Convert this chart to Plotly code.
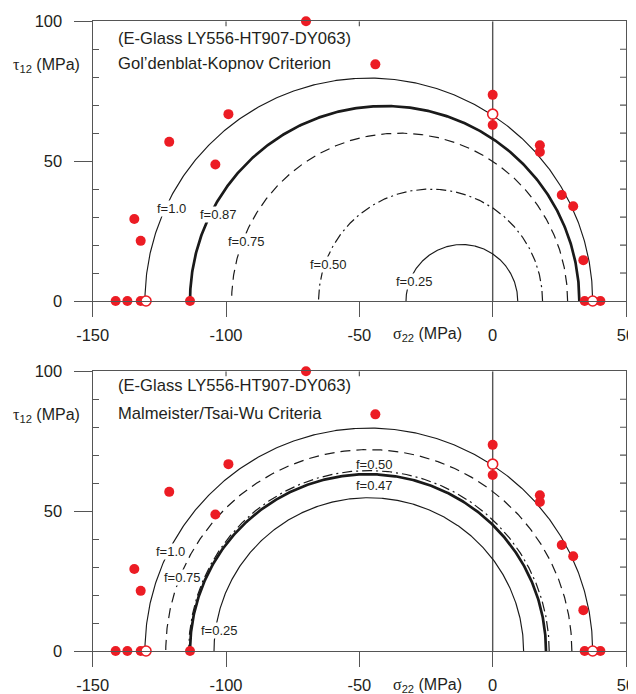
import numpy as np
import plotly.graph_objects as go

# ---------------- data ----------------
x_ticks = [-150, -100, -50, 0, 50]
y_ticks = [0, 50, 100]

# experimental points (same set in both panels)
filled_x = [-70, -44, -99.1, -121.3, -104, 0, 0, 17.7, 17.7, 25.9, 30.2, 34.0,
            34.5, 40.4, -134.4, -132.0, -141.4, -137.0, -132.0, -113.5]
filled_y = [100, 84.6, 66.8, 56.9, 48.8, 73.7, 62.9, 55.7, 53.3, 37.9, 33.9, 14.6,
            0, 0, 29.3, 21.5, 0, 0, 0, 0]
open_x = [0, -130.0, 37.5]
open_y = [66.8, 0, 0]

# failure envelopes: left / right sigma22 intercepts and peak tau12
top_labels = ["f=1.0", "f=0.87", "f=0.75", "f=0.50", "f=0.25"]
top_left = [-130.4, -113.5, -97.9, -65.3, -32.5]
top_right = [37.5, 32.5, 28.1, 18.7, 9.4]
top_peak = [79.7, 69.7, 60.0, 40.0, 20.2]

bot_labels = ["f=1.0", "f=0.75", "f=0.50", "f=0.47", "f=0.25"]
bot_left = [-130.4, -122.6, -114.0, -113.5, -104.5]
bot_right = [37.5, 29.7, 21.2, 20.0, 11.6]
bot_peak = [79.7, 72.0, 64.5, 63.2, 54.8]

# ---------------- styles / positions ----------------
THIN = dict(width=1.15, dash="solid")
THICK = dict(width=2.7, dash="solid")
DASH = dict(width=1.2, dash="10px,6px")
DASHDOT = dict(width=1.2, dash="10px,4px,2px,4px")
top_styles = [THIN, THICK, DASH, DASHDOT, THIN]
bot_styles = [THIN, DASH, DASHDOT, THICK, THIN]

top_label_pos = [(-120.4, 33.1), (-102.9, 31.0), (-92.2, 21.4), (-61.4, 12.9), (-29.2, 7.1)]
bot_label_pos = [(-120.7, 35.5), (-116.2, 26.3), (-44.4, 66.8), (-44.4, 59.0), (-102.4, 7.2)]
bot_label_bg = [True, True, False, False, True]

# page body has an 8px margin: shift everything by it
OFF = 8
W, H = 636 - OFF, 694 - OFF


def fx(px):
    return (px - OFF) / W


def fy(py):
    return 1 - (py - OFF) / H


XDOM = [fx(92.7), fx(626)]
TOP_DOM = [fy(301), fy(21.3)]
BOT_DOM = [fy(651), fy(371.3)]

RED = "#ec1c24"
AX = "#555555"
TXT = "#231f20"
FONT = "Arial, Liberation Sans, Helvetica, sans-serif"
SERIF = "Times New Roman, Liberation Serif, serif"

fig = go.Figure()

theta = np.linspace(0, np.pi, 400)


def add_panel(xa, ya, labels, lefts, rights, peaks, styles):
    for lab, l, r, p, st in zip(labels, lefts, rights, peaks, styles):
        c = (l + r) / 2
        a = (r - l) / 2
        fig.add_trace(go.Scatter(
            x=c + a * np.cos(theta), y=p * np.sin(theta), mode="lines",
            line=dict(color="#1a1a1a", width=st["width"], dash=st["dash"]),
            xaxis=xa, yaxis=ya, cliponaxis=False, hoverinfo="skip", name=lab))
    fig.add_trace(go.Scatter(
        x=filled_x, y=filled_y, mode="markers", xaxis=xa, yaxis=ya,
        marker=dict(size=10, color=RED, line=dict(width=0)), cliponaxis=False))
    fig.add_trace(go.Scatter(
        x=open_x, y=open_y, mode="markers", xaxis=xa, yaxis=ya,
        marker=dict(size=10, color="white", line=dict(width=1.6, color=RED)),
        cliponaxis=False))


add_panel("x", "y", top_labels, top_left, top_right, top_peak, top_styles)
add_panel("x2", "y2", bot_labels, bot_left, bot_right, bot_peak, bot_styles)


def xaxis_def(anchor):
    return dict(domain=XDOM, range=[-150, 50], anchor=anchor, showline=True,
                linecolor=AX, linewidth=1.4, mirror=True, showgrid=False,
                zeroline=False, ticks="outside", tickvals=x_ticks,
                ticktext=[str(v) for v in x_ticks], ticklen=15, tickwidth=1.4,
                tickcolor=AX, tickfont=dict(family=FONT, size=16.5, color=TXT),
                ticklabelstandoff=4, automargin=False)


def yaxis_def(anchor, dom):
    return dict(domain=dom, range=[0, 100], anchor=anchor, showline=True,
                linecolor=AX, linewidth=1.4, mirror=True, showgrid=False,
                zeroline=False, ticks="outside", tickvals=y_ticks,
                ticktext=[str(v) for v in y_ticks], ticklen=18, tickwidth=1.4,
                tickcolor=AX, tickfont=dict(family=FONT, size=16.5, color=TXT),
                ticklabelstandoff=8, automargin=False,
                minor=dict(ticks="inside", tickvals=[10, 20, 30, 40, 60, 70, 80, 90],
                           ticklen=6, tickwidth=1.2, tickcolor=AX))


shapes = []
annotations = []
for xr, yr in [("x", "y"), ("x2", "y2")]:
    # vertical line at sigma22 = 0
    shapes.append(dict(type="line", xref=xr, yref=yr, x0=0, x1=0, y0=0, y1=100,
                       line=dict(color=AX, width=1.4), layer="below"))
    # right-side minor ticks
    for v in [10, 20, 30, 40, 50, 60, 70, 80, 90]:
        shapes.append(dict(type="line", xref=xr, yref=yr, xsizemode="pixel",
                           xanchor=50, x0=0, x1=-6, y0=v, y1=v,
                           line=dict(color=AX, width=1.2)))
    # top-border small ticks
    for v in [-100, -50]:
        shapes.append(dict(type="line", xref=xr, yref=yr, ysizemode="pixel",
                           yanchor=100, y0=0, y1=-5, x0=v, x1=v,
                           line=dict(color=AX, width=1.2)))
    # baseline extension to the right edge
    shapes.append(dict(type="line", xref=xr, yref=yr, xsizemode="pixel",
                       xanchor=50, x0=0, x1=12, y0=0, y1=0,
                       line=dict(color=AX, width=1.4)))

# curve labels
for labs, pos, bgs, xr, yr in [
        (top_labels, top_label_pos, [True] * 5, "x", "y"),
        (bot_labels, bot_label_pos, bot_label_bg, "x2", "y2")]:
    for lab, (px, py), bg in zip(labs, pos, bgs):
        annotations.append(dict(
            x=px, y=py, xref=xr, yref=yr, text=lab, showarrow=False,
            font=dict(family=FONT, size=13, color=TXT),
            bgcolor="white" if bg else "rgba(0,0,0,0)", borderpad=0))


def paper_text(text, px, py, anchor="left", size=16):
    annotations.append(dict(x=fx(px), y=fy(py), xref="paper", yref="paper",
                            text=text, showarrow=False, xanchor=anchor,
                            yanchor="middle", bgcolor="rgba(0,0,0,0)",
                            borderpad=0,
                            font=dict(family=FONT, size=size, color=TXT)))


ylab = (f"<span style='font-family:{SERIF}'>τ</span>"
        f"<sub>12</sub> (MPa)")
xlab = (f"<span style='font-family:{SERIF}'>σ</span>"
        f"<sub>22</sub> (MPa)")

paper_text("(E-Glass LY556-HT907-DY063)", 117, 38, size=16.6)
paper_text("Gol’denblat-Kopnov Criterion", 117, 64, size=16.6)
paper_text("(E-Glass LY556-HT907-DY063)", 117, 386, size=16.6)
paper_text("Malmeister/Tsai-Wu Criteria", 117, 413, size=16.6)
paper_text(ylab, 12, 65)
paper_text(ylab, 12, 415)
paper_text(xlab, 427, 334, anchor="center")
paper_text(xlab, 427, 685, anchor="center")

fig.update_layout(
    width=W, height=H, margin=dict(l=0, r=0, t=0, b=0),
    paper_bgcolor="white", plot_bgcolor="white", showlegend=False,
    xaxis=xaxis_def("y"), yaxis=yaxis_def("x", TOP_DOM),
    xaxis2=xaxis_def("y2"), yaxis2=yaxis_def("x2", BOT_DOM),
    shapes=shapes, annotations=annotations,
)

fig.write_html("out.html")
